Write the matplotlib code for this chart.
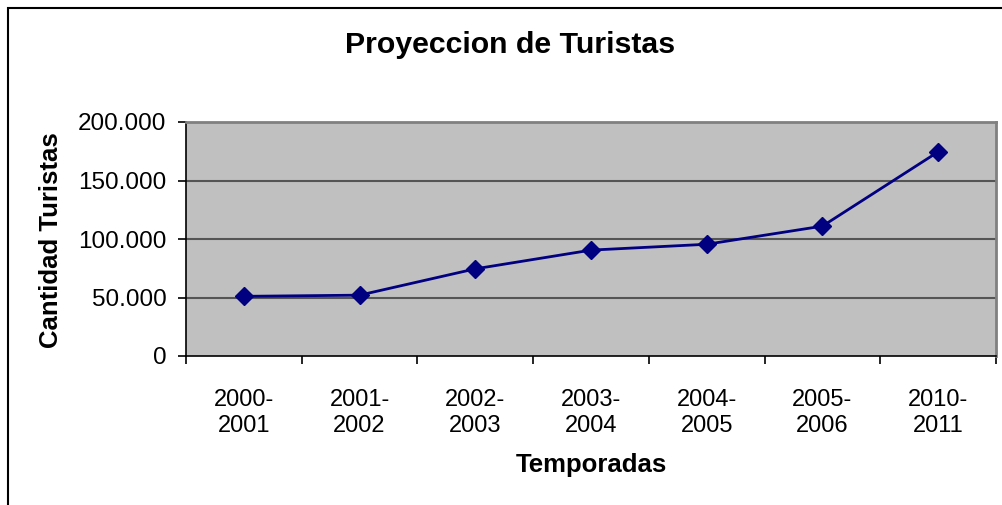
import numpy as np
import matplotlib
matplotlib.use('Agg')
import matplotlib.pyplot as plt
from matplotlib.patches import Rectangle
from matplotlib.ticker import FuncFormatter

matplotlib.rcParams['font.family'] = 'Liberation Sans'

# Data
temporadas = ['2000-\n2001', '2001-\n2002', '2002-\n2003', '2003-\n2004',
              '2004-\n2005', '2005-\n2006', '2010-\n2011']
turistas = [51000, 52000, 74500, 90500, 95500, 111000, 174500]
y_ticks = [0, 50000, 100000, 150000, 200000]

W, H = 1003, 505
fig = plt.figure(figsize=(W / 100, H / 100), dpi=100)

# outer chart border (only left and top visible)
fig.patches.append(Rectangle((8 / W, -0.2), 1.2, (H - 8) / H + 0.2,
                             transform=fig.transFigure, fill=False,
                             edgecolor='black', lw=1.5))

ax = fig.add_axes([186 / W, 1 - 356 / H, (996 - 186) / W, (356 - 122) / H])
ax.set_facecolor('#c0c0c0')

x = np.arange(len(temporadas))
ax.set_xlim(-0.5, len(temporadas) - 0.5)
ax.set_ylim(0, 200000)

for v in y_ticks[1:-1]:
    ax.axhline(v, color='#555555', lw=1.5, zorder=1)

ax.plot(x, turistas, color='#000080', lw=2, marker='D', markersize=9,
        zorder=3, clip_on=False)

ax.set_yticks(y_ticks)
ax.yaxis.set_major_formatter(FuncFormatter(lambda v, p: f'{int(v):,}'.replace(',', '.')))
ax.set_xticks(x)
ax.set_xticklabels(temporadas)
ax.tick_params(axis='x', which='major', length=0, pad=24, labelsize=17)
ax.set_xticks(np.arange(len(temporadas) + 1) - 0.5, minor=True)
ax.tick_params(axis='x', which='minor', length=6, width=1.2, direction='out')
ax.tick_params(axis='y', length=6, width=1.2, pad=8, labelsize=17.5)

for side in ['top', 'right']:
    ax.spines[side].set_color('#808080')
    ax.spines[side].set_linewidth(2)
for side in ['left', 'bottom']:
    ax.spines[side].set_color('black')
    ax.spines[side].set_linewidth(1.2)

fig.text(510 / W, 1 - 45 / H, 'Proyeccion de Turistas', ha='center', va='center',
         fontsize=21.8, fontweight='bold')
fig.text(51 / W, 1 - 240 / H, 'Cantidad Turistas', ha='center', va='center',
         rotation=90, fontsize=18.5, fontweight='bold')
fig.text(591 / W, 1 - 465 / H, 'Temporadas', ha='center', va='center',
         fontsize=18.5, fontweight='bold')

fig.savefig('out.png', dpi=100)
